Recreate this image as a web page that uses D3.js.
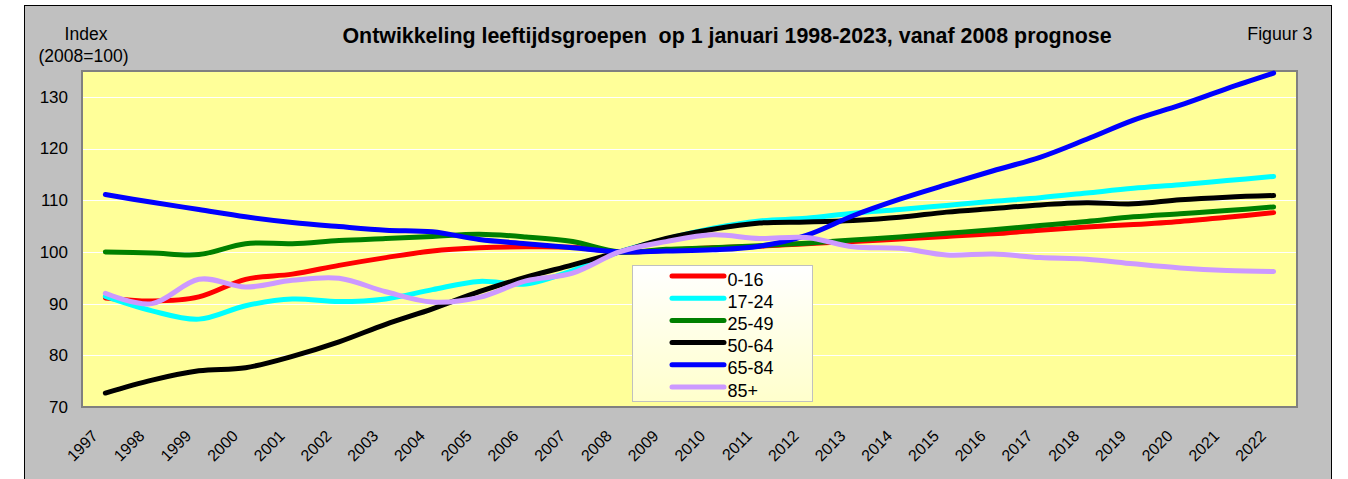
<!DOCTYPE html>
<html>
<head>
<meta charset="utf-8">
<script src="https://cdn.jsdelivr.net/npm/d3@7"></script>
<style>
  body { margin: 0; background: #fff; }
  svg text { font-family: "Liberation Sans", Arial, sans-serif; }
</style>
</head>
<body>
<div id="chart"></div>
<script>
// year labels on the category axis
const years = ["1997","1998","1999","2000","2001","2002","2003","2004","2005","2006","2007","2008","2009",
  "2010","2011","2012","2013","2014","2015","2016","2017","2018","2019","2020","2021","2022"];

// index values (2008 = 100)
const age0_16  = [91.1, 90.5, 91.3, 94.7, 95.7, 97.4, 98.9, 100.2, 100.8, 101.0, 100.9, 100.0, 100.3,
  100.8, 101.1, 101.6, 102.0, 102.5, 103.0, 103.5, 104.2, 104.8, 105.3, 105.9, 106.7, 107.6];
const age17_24 = [91.4, 88.6, 87.0, 89.6, 90.9, 90.4, 90.9, 92.7, 94.3, 93.8, 96.4, 100.0, 102.5,
  104.6, 106.0, 106.5, 107.5, 108.2, 109.0, 109.8, 110.5, 111.4, 112.3, 113.0, 113.8, 114.6];
const age25_49 = [100.0, 99.8, 99.5, 101.6, 101.6, 102.2, 102.6, 103.0, 103.4, 102.9, 102.0, 100.0, 100.5,
  100.8, 101.2, 101.7, 102.3, 102.9, 103.6, 104.3, 105.1, 105.9, 106.8, 107.4, 108.0, 108.7];
const age50_64 = [72.7, 75.2, 77.0, 77.6, 79.8, 82.6, 86.0, 89.0, 92.3, 95.1, 97.5, 100.0, 102.6,
  104.4, 105.6, 105.8, 106.1, 106.7, 107.7, 108.4, 109.1, 109.5, 109.3, 110.1, 110.6, 110.9];
const age65_84 = [111.1, 109.6, 108.2, 106.8, 105.7, 104.9, 104.2, 103.9, 102.4, 101.6, 100.8, 100.0, 100.2,
  100.4, 101.1, 103.2, 107.0, 110.2, 113.0, 115.7, 118.3, 121.8, 125.5, 128.4, 131.6, 134.6];
const age85up  = [92.0, 90.0, 94.7, 93.2, 94.5, 94.9, 92.3, 90.3, 91.2, 94.4, 95.9, 100.0, 102.0,
  103.3, 102.6, 102.8, 101.0, 100.7, 99.4, 99.6, 98.9, 98.6, 97.7, 96.9, 96.4, 96.2];

const seriesNames = ["0-16", "17-24", "25-49", "50-64", "65-84", "85+"];
const seriesColors = ["#ff0000", "#00ffff", "#008000", "#000000", "#0000ff", "#cc99ff"];
const yTicks = [70, 80, 90, 100, 110, 120, 130];

const series = [age0_16, age17_24, age25_49, age50_64, age65_84, age85up]
  .map((values, i) => ({ name: seriesNames[i], color: seriesColors[i], values }));

const width = 1348, height = 479;
const plot = { left: 82, top: 71, right: 1297, bottom: 407 };

const svg = d3.select("#chart").append("svg")
  .attr("width", width)
  .attr("height", height);

// grey chart frame
svg.append("rect")
  .attr("x", 24.5).attr("y", 5.5)
  .attr("width", 1307).attr("height", 500)
  .attr("fill", "#c0c0c0")
  .attr("stroke", "#000").attr("stroke-width", 1);

const x = d3.scalePoint().domain(years).range([plot.left, plot.right]).padding(0.5);
const y = d3.scaleLinear().domain([70, 135]).range([plot.bottom, plot.top]);

// plot area
svg.append("rect")
  .attr("x", plot.left).attr("y", plot.top)
  .attr("width", plot.right - plot.left).attr("height", plot.bottom - plot.top)
  .attr("fill", "#ffff99")
  .attr("stroke", "#808080").attr("stroke-width", 2);

// gridlines
svg.append("g")
  .selectAll("line")
  .data(yTicks.filter(d => d > 70))
  .enter().append("line")
  .attr("x1", plot.left + 1).attr("x2", plot.right - 1)
  .attr("y1", d => Math.round(y(d)) + 0.5).attr("y2", d => Math.round(y(d)) + 0.5)
  .attr("stroke", "#ffffff").attr("stroke-width", 1);

// y axis labels
const yAxis = d3.axisLeft(y).tickValues(yTicks).tickSize(0).tickPadding(14);
svg.append("g")
  .attr("transform", `translate(${plot.left},0)`)
  .call(yAxis)
  .call(g => g.select(".domain").remove())
  .selectAll("text")
  .attr("font-size", 17)
  .attr("fill", "#000")
  .attr("font-family", "Liberation Sans, Arial, sans-serif");

// x axis labels, rotated
const xAxis = d3.axisBottom(x).tickSize(0).tickPadding(0);
svg.append("g")
  .attr("transform", `translate(0,${plot.bottom})`)
  .call(xAxis)
  .call(g => g.select(".domain").remove())
  .selectAll("text")
  .attr("font-size", 16)
  .attr("fill", "#000")
  .attr("font-family", "Liberation Sans, Arial, sans-serif")
  .attr("text-anchor", "end")
  .attr("dy", null)
  .attr("y", 0)
  .attr("transform", "translate(-7,30) rotate(-45)");

// lines
const line = d3.line()
  .x((d, i) => x(years[i]))
  .y(d => y(d))
  .curve(d3.curveCardinal.tension(0));

svg.append("g")
  .selectAll("path")
  .data(series)
  .enter().append("path")
  .attr("d", d => line(d.values))
  .attr("fill", "none")
  .attr("stroke", d => d.color)
  .attr("stroke-width", 5)
  .attr("stroke-linecap", "round")
  .attr("stroke-linejoin", "round");

// legend
const defs = svg.append("defs");
const grad = defs.append("linearGradient").attr("id", "legendFill")
  .attr("x1", 0).attr("y1", 0).attr("x2", 0).attr("y2", 1);
grad.append("stop").attr("offset", "0%").attr("stop-color", "#ffffff");
grad.append("stop").attr("offset", "100%").attr("stop-color", "#ffffcc");

const legend = svg.append("g").attr("transform", "translate(632,265)");
legend.append("rect")
  .attr("x", 0.5).attr("y", 0.5)
  .attr("width", 180).attr("height", 136)
  .attr("fill", "url(#legendFill)")
  .attr("stroke", "#c0c0c0").attr("stroke-width", 1);

const item = legend.selectAll("g.item")
  .data(series)
  .enter().append("g")
  .attr("class", "item")
  .attr("transform", (d, i) => `translate(0,${11 + i * 22.2})`);

item.append("line")
  .attr("x1", 40).attr("x2", 92)
  .attr("stroke", d => d.color)
  .attr("stroke-width", 5)
  .attr("stroke-linecap", "round");

item.append("text")
  .attr("x", 95.5).attr("y", 9.5)
  .attr("font-size", 18)
  .text(d => d.name);

// titles
svg.append("text")
  .attr("x", 727).attr("y", 42.5)
  .attr("text-anchor", "middle")
  .attr("font-size", 21.4)
  .attr("font-weight", "bold")
  .attr("xml:space", "preserve")
  .text("Ontwikkeling leeftijdsgroepen  op 1 januari 1998-2023, vanaf 2008 prognose");

svg.append("text")
  .attr("x", 86).attr("y", 39.5)
  .attr("text-anchor", "middle")
  .attr("font-size", 17.5)
  .text("Index");

svg.append("text")
  .attr("x", 83.5).attr("y", 62)
  .attr("text-anchor", "middle")
  .attr("font-size", 17.5)
  .text("(2008=100)");

svg.append("text")
  .attr("x", 1312.5).attr("y", 39.5)
  .attr("text-anchor", "end")
  .attr("font-size", 17.8)
  .text("Figuur 3");
</script>
</body>
</html>
